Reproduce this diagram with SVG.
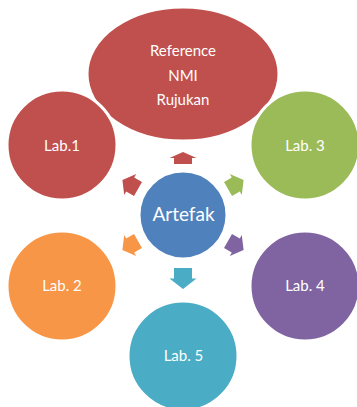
<svg xmlns="http://www.w3.org/2000/svg" width="357" height="407" viewBox="0 0 357 407">
  <style>
    .shape { stroke: #FFFFFF; stroke-width: 3; }
    .lbl { font-family: Lato, "Liberation Sans", sans-serif; font-size: 15px; fill: #FFFFFF; text-anchor: middle; }
    .big { font-size: 19px; }
    .red { fill: #C0504D; }
    .green { fill: #9BBB59; }
    .purple { fill: #8064A2; }
    .orange { fill: #F79646; }
    .teal { fill: #4BACC6; }
    .blue { fill: #4F81BD; }
  </style>
  <rect width="357" height="407" fill="#FFFFFF"/>
  <g id="ref">
    <ellipse class="shape red" cx="183" cy="74" rx="96" ry="67"/>
    <text class="lbl" x="183" y="56">Reference</text>
    <text class="lbl" x="183" y="81">NMI</text>
    <text class="lbl" x="183" y="105">Rujukan</text>
  </g>
  <g id="lab1">
    <circle class="shape red" cx="62" cy="145" r="55"/>
    <text class="lbl" x="62" y="151">Lab.1</text>
  </g>
  <g id="lab3">
    <circle class="shape green" cx="305" cy="145" r="55"/>
    <text class="lbl" x="305" y="151">Lab. 3</text>
  </g>
  <g id="lab2">
    <circle class="shape orange" cx="62" cy="286" r="55"/>
    <text class="lbl" x="62" y="291">Lab. 2</text>
  </g>
  <g id="lab4">
    <circle class="shape purple" cx="305" cy="286" r="55"/>
    <text class="lbl" x="305" y="291">Lab. 4</text>
  </g>
  <g id="lab5">
    <circle class="shape teal" cx="183" cy="356" r="55"/>
    <text class="lbl" x="183.5" y="361">Lab. 5</text>
  </g>
  <g id="artefak">
    <circle class="shape blue" cx="183" cy="215" r="44"/>
    <text class="lbl big" x="183.5" y="221">Artefak</text>
  </g>
  <g id="connectors">
    <polygon class="red" transform="translate(183,158) rotate(-90)" points="-6,-9 0,-9 0,-13.5 6,0 0,13.5 0,9 -6,9"/>
    <polygon class="teal" transform="translate(183,278.5) rotate(90)" points="-10.5,-9 0,-9 0,-13.5 10.5,0 0,13.5 0,9 -10.5,9"/>
    <polygon class="red" transform="translate(130.2,184.5) rotate(210)" points="-9,-8 0,-8 0,-12 9,0 0,12 0,8 -9,8"/>
    <polygon class="green" transform="translate(235.8,184.5) rotate(-30)" points="-9,-8 0,-8 0,-12 9,0 0,12 0,8 -9,8"/>
    <polygon class="purple" transform="translate(235.8,245.5) rotate(30)" points="-9,-8 0,-8 0,-12 9,0 0,12 0,8 -9,8"/>
    <polygon class="orange" transform="translate(130.2,245.5) rotate(150)" points="-9,-8 0,-8 0,-12 9,0 0,12 0,8 -9,8"/>
  </g>
</svg>
